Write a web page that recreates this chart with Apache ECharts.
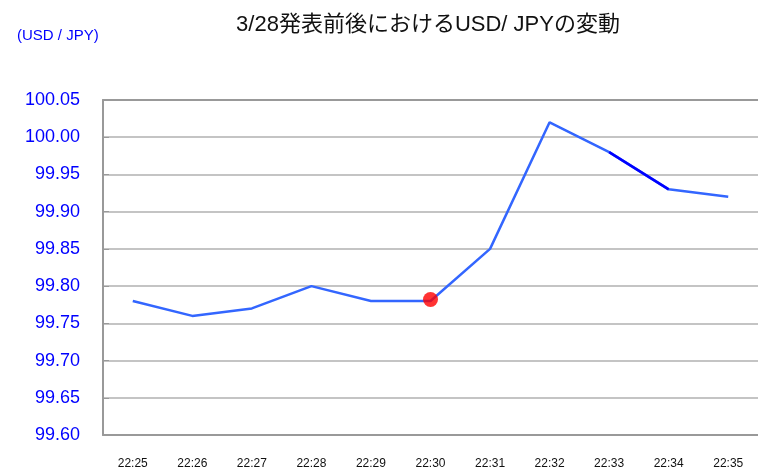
<!DOCTYPE html>
<html><head><meta charset="utf-8">
<script src="https://cdn.jsdelivr.net/npm/echarts@6/dist/echarts.min.js"></script>
<style>html,body{margin:0;padding:0;background:#fff}#c{width:758px;height:470px}</style>
</head><body><div id="c"></div>
<script>
const categories = ["22:25","22:26","22:27","22:28","22:29","22:30","22:31","22:32","22:33","22:34","22:35"];
const usdJpy = [99.78, 99.76, 99.77, 99.80, 99.78, 99.78, 99.85, 100.02, 99.98, 99.93, 99.92];
const darkSegment = [null, null, null, null, null, null, null, null, 99.98, 99.93, null];
const announcement = [["22:30", 99.782]];
const yTicks = {min: 99.60, max: 100.05, step: 0.05};

const chart = echarts.init(document.getElementById('c'), null, {renderer: 'canvas'});
chart.setOption({
  animation: false,
  backgroundColor: '#fff',
  title: [
    {text: '3/28発表前後におけるUSD/ JPYの変動', left: 423, top: 9, textAlign: 'center',
     textStyle: {fontFamily: "'Liberation Sans', 'Noto Sans CJK JP'", fontSize: 22, fontWeight: 'normal', color: '#111'}},
    {text: '(USD / JPY)', left: 12, top: 23,
     textStyle: {fontFamily: 'Liberation Sans', fontSize: 15, fontWeight: 'normal', color: '#0000ff'}}
  ],
  grid: {left: 103, top: 100, width: 658, height: 336, show: false},
  xAxis: [{
    type: 'category', data: categories, boundaryGap: true,
    axisLine: {lineStyle: {color: '#999', width: 2}},
    axisTick: {inside: true, length: 5, lineStyle: {color: '#999', width: 1}},
    axisLabel: {color: '#111', fontFamily: 'Liberation Sans', fontSize: 12, margin: 23},
    splitLine: {show: false}
  }, {
    type: 'category', data: categories, position: 'top',
    axisLine: {lineStyle: {color: '#999', width: 2}},
    axisTick: {show: false}, axisLabel: {show: false}, splitLine: {show: false}
  }],
  yAxis: {
    type: 'value', min: yTicks.min, max: yTicks.max, interval: yTicks.step,
    axisLine: {show: true, lineStyle: {color: '#999', width: 2}},
    axisTick: {show: true, inside: true, length: 6, lineStyle: {color: '#999', width: 1}},
    axisLabel: {color: '#0000ff', fontFamily: 'Liberation Sans', fontSize: 18, margin: 23,
      formatter: v => v.toFixed(2)},
    splitLine: {lineStyle: {color: '#c4c4c4', width: 2}}
  },
  series: [
    {type: 'line', data: usdJpy, symbol: 'none', lineStyle: {color: '#3366ff', width: 2.5}, z: 3},
    {type: 'line', data: darkSegment, symbol: 'none', lineStyle: {color: '#0000ff', width: 2.5}, z: 4},
    {type: 'scatter', data: announcement, symbol: 'circle', symbolSize: 15,
     itemStyle: {color: '#ff0000'}, z: 5}
  ]
});
</script></body></html>
